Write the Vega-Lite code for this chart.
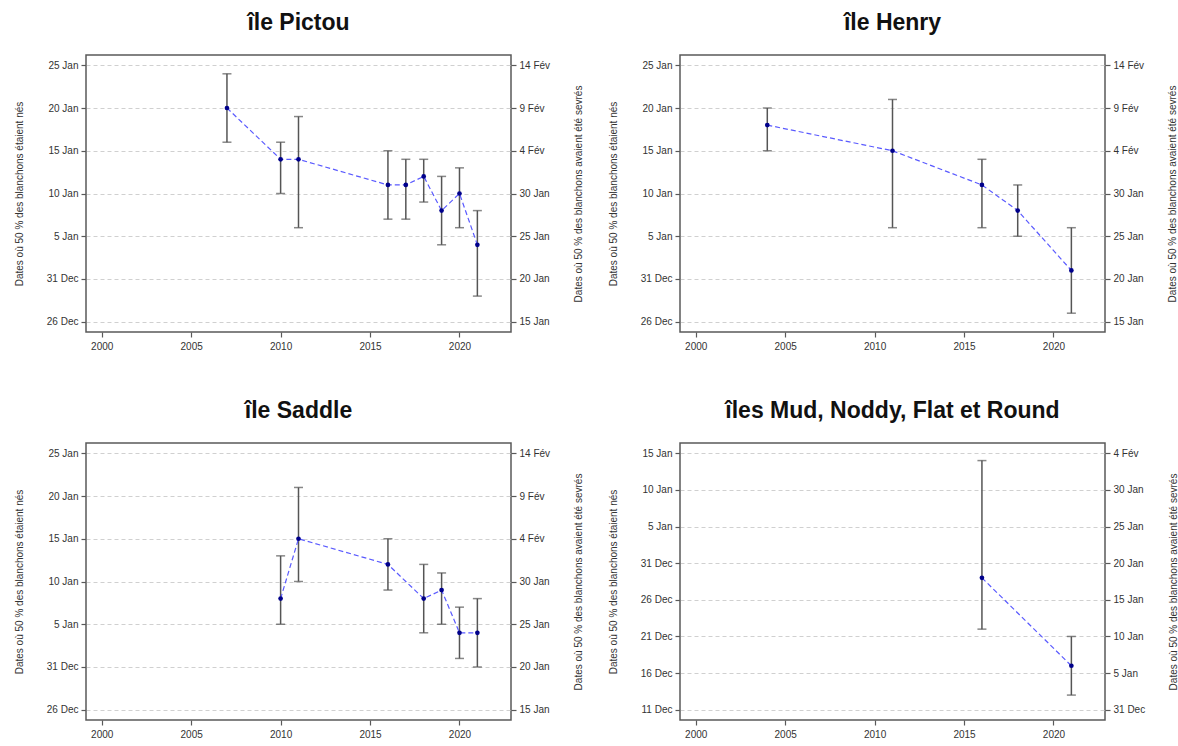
{
  "$schema": "https://vega.github.io/schema/vega-lite/v6.json",
  "padding": {"left": 13, "top": 11, "right": 0, "bottom": 0},
  "background": "white",
  "datasets": {
    "pts": [
      {"panel": "Pictou", "year": 2007, "mid": 20, "lo": 16, "hi": 24},
      {"panel": "Pictou", "year": 2010, "mid": 14, "lo": 10, "hi": 16},
      {"panel": "Pictou", "year": 2011, "mid": 14, "lo": 6, "hi": 19},
      {"panel": "Pictou", "year": 2016, "mid": 11, "lo": 7, "hi": 15},
      {"panel": "Pictou", "year": 2017, "mid": 11, "lo": 7, "hi": 14},
      {"panel": "Pictou", "year": 2018, "mid": 12, "lo": 9, "hi": 14},
      {"panel": "Pictou", "year": 2019, "mid": 8, "lo": 4, "hi": 12},
      {"panel": "Pictou", "year": 2020, "mid": 10, "lo": 6, "hi": 13},
      {"panel": "Pictou", "year": 2021, "mid": 4, "lo": -2, "hi": 8},
      {"panel": "Henry", "year": 2004, "mid": 18, "lo": 15, "hi": 20},
      {"panel": "Henry", "year": 2011, "mid": 15, "lo": 6, "hi": 21},
      {"panel": "Henry", "year": 2016, "mid": 11, "lo": 6, "hi": 14},
      {"panel": "Henry", "year": 2018, "mid": 8, "lo": 5, "hi": 11},
      {"panel": "Henry", "year": 2021, "mid": 1, "lo": -4, "hi": 6},
      {"panel": "Saddle", "year": 2010, "mid": 8, "lo": 5, "hi": 13},
      {"panel": "Saddle", "year": 2011, "mid": 15, "lo": 10, "hi": 21},
      {"panel": "Saddle", "year": 2016, "mid": 12, "lo": 9, "hi": 15},
      {"panel": "Saddle", "year": 2018, "mid": 8, "lo": 4, "hi": 12},
      {"panel": "Saddle", "year": 2019, "mid": 9, "lo": 5, "hi": 11},
      {"panel": "Saddle", "year": 2020, "mid": 4, "lo": 1, "hi": 7},
      {"panel": "Saddle", "year": 2021, "mid": 4, "lo": 0, "hi": 8},
      {"panel": "Mud", "year": 2016, "mid": -2, "lo": -9, "hi": 14},
      {"panel": "Mud", "year": 2021, "mid": -14, "lo": -18, "hi": -10}
    ]
  },
  "data": {"name": "pts"},
  "columns": 2,
  "spacing": {"row": 47, "column": 22},
  "concat": [
    {
      "title": "île Pictou",
      "width": 425, "height": 277,
      "transform": [{"filter": "datum.panel === 'Pictou'"}],
      "encoding": {"x": {"field": "year", "type": "quantitative", "scale": {"domain": [1999.12, 2022.88], "nice": false, "zero": false}, "axis": {"values": [2000, 2005, 2010, 2015, 2020], "format": "d", "title": null, "labelPadding": 4}}},
      "layer": [
        {
          "layer": [
            {"mark": {"type": "rule", "color": "#555555", "strokeWidth": 1.5}, "encoding": {"y": {"field": "lo", "type": "quantitative", "scale": {"domain": [-6.2, 26.2], "nice": false, "zero": false}, "axis": {"orient": "left", "values": [-5, 0, 5, 10, 15, 20, 25], "grid": true, "labelExpr": "datum.value <= 0 ? (datum.value + 31) + ' Dec' : datum.value + ' Jan'", "title": "Dates où 50 % des blanchons étaient nés", "titlePadding": 22}}, "y2": {"field": "hi"}}},
            {"mark": {"type": "tick", "orient": "horizontal", "color": "#555555", "thickness": 1.5, "size": 9}, "encoding": {"y": {"field": "lo", "type": "quantitative"}}},
            {"mark": {"type": "tick", "orient": "horizontal", "color": "#555555", "thickness": 1.5, "size": 9}, "encoding": {"y": {"field": "hi", "type": "quantitative"}}},
            {"mark": {"type": "line", "color": "#5a5aff", "strokeDash": [5, 3], "strokeWidth": 1.2}, "encoding": {"y": {"field": "mid", "type": "quantitative"}}},
            {"mark": {"type": "circle", "color": "#00008b", "opacity": 1, "size": 22}, "encoding": {"y": {"field": "mid", "type": "quantitative"}}}
          ]
        },
        {
          "mark": {"type": "point", "opacity": 0},
          "encoding": {"y": {"field": "mid", "type": "quantitative", "scale": {"domain": [-6.2, 26.2], "nice": false, "zero": false}, "axis": {"orient": "right", "values": [-5, 0, 5, 10, 15, 20, 25], "grid": false, "labelExpr": "(datum.value + 20) <= 0 ? (datum.value + 51) + ' Dec' : (datum.value + 20) <= 31 ? (datum.value + 20) + ' Jan' : (datum.value - 11) + ' Fév'", "title": "Dates où 50 % des blanchons avaient été sevrés", "titlePadding": 34, "titleAngle": 270}}}
        }
      ],
      "resolve": {"scale": {"y": "independent"}, "axis": {"y": "independent"}}
    },
    {
      "title": "île Henry",
      "width": 425, "height": 277,
      "transform": [{"filter": "datum.panel === 'Henry'"}],
      "encoding": {"x": {"field": "year", "type": "quantitative", "scale": {"domain": [1999.12, 2022.88], "nice": false, "zero": false}, "axis": {"values": [2000, 2005, 2010, 2015, 2020], "format": "d", "title": null, "labelPadding": 4}}},
      "layer": [
        {
          "layer": [
            {"mark": {"type": "rule", "color": "#555555", "strokeWidth": 1.5}, "encoding": {"y": {"field": "lo", "type": "quantitative", "scale": {"domain": [-6.2, 26.2], "nice": false, "zero": false}, "axis": {"orient": "left", "values": [-5, 0, 5, 10, 15, 20, 25], "grid": true, "labelExpr": "datum.value <= 0 ? (datum.value + 31) + ' Dec' : datum.value + ' Jan'", "title": "Dates où 50 % des blanchons étaient nés", "titlePadding": 22}}, "y2": {"field": "hi"}}},
            {"mark": {"type": "tick", "orient": "horizontal", "color": "#555555", "thickness": 1.5, "size": 9}, "encoding": {"y": {"field": "lo", "type": "quantitative"}}},
            {"mark": {"type": "tick", "orient": "horizontal", "color": "#555555", "thickness": 1.5, "size": 9}, "encoding": {"y": {"field": "hi", "type": "quantitative"}}},
            {"mark": {"type": "line", "color": "#5a5aff", "strokeDash": [5, 3], "strokeWidth": 1.2}, "encoding": {"y": {"field": "mid", "type": "quantitative"}}},
            {"mark": {"type": "circle", "color": "#00008b", "opacity": 1, "size": 22}, "encoding": {"y": {"field": "mid", "type": "quantitative"}}}
          ]
        },
        {
          "mark": {"type": "point", "opacity": 0},
          "encoding": {"y": {"field": "mid", "type": "quantitative", "scale": {"domain": [-6.2, 26.2], "nice": false, "zero": false}, "axis": {"orient": "right", "values": [-5, 0, 5, 10, 15, 20, 25], "grid": false, "labelExpr": "(datum.value + 20) <= 0 ? (datum.value + 51) + ' Dec' : (datum.value + 20) <= 31 ? (datum.value + 20) + ' Jan' : (datum.value - 11) + ' Fév'", "title": "Dates où 50 % des blanchons avaient été sevrés", "titlePadding": 34, "titleAngle": 270}}}
        }
      ],
      "resolve": {"scale": {"y": "independent"}, "axis": {"y": "independent"}}
    },
    {
      "title": "île Saddle",
      "width": 425, "height": 277,
      "transform": [{"filter": "datum.panel === 'Saddle'"}],
      "encoding": {"x": {"field": "year", "type": "quantitative", "scale": {"domain": [1999.12, 2022.88], "nice": false, "zero": false}, "axis": {"values": [2000, 2005, 2010, 2015, 2020], "format": "d", "title": null, "labelPadding": 4}}},
      "layer": [
        {
          "layer": [
            {"mark": {"type": "rule", "color": "#555555", "strokeWidth": 1.5}, "encoding": {"y": {"field": "lo", "type": "quantitative", "scale": {"domain": [-6.2, 26.2], "nice": false, "zero": false}, "axis": {"orient": "left", "values": [-5, 0, 5, 10, 15, 20, 25], "grid": true, "labelExpr": "datum.value <= 0 ? (datum.value + 31) + ' Dec' : datum.value + ' Jan'", "title": "Dates où 50 % des blanchons étaient nés", "titlePadding": 22}}, "y2": {"field": "hi"}}},
            {"mark": {"type": "tick", "orient": "horizontal", "color": "#555555", "thickness": 1.5, "size": 9}, "encoding": {"y": {"field": "lo", "type": "quantitative"}}},
            {"mark": {"type": "tick", "orient": "horizontal", "color": "#555555", "thickness": 1.5, "size": 9}, "encoding": {"y": {"field": "hi", "type": "quantitative"}}},
            {"mark": {"type": "line", "color": "#5a5aff", "strokeDash": [5, 3], "strokeWidth": 1.2}, "encoding": {"y": {"field": "mid", "type": "quantitative"}}},
            {"mark": {"type": "circle", "color": "#00008b", "opacity": 1, "size": 22}, "encoding": {"y": {"field": "mid", "type": "quantitative"}}}
          ]
        },
        {
          "mark": {"type": "point", "opacity": 0},
          "encoding": {"y": {"field": "mid", "type": "quantitative", "scale": {"domain": [-6.2, 26.2], "nice": false, "zero": false}, "axis": {"orient": "right", "values": [-5, 0, 5, 10, 15, 20, 25], "grid": false, "labelExpr": "(datum.value + 20) <= 0 ? (datum.value + 51) + ' Dec' : (datum.value + 20) <= 31 ? (datum.value + 20) + ' Jan' : (datum.value - 11) + ' Fév'", "title": "Dates où 50 % des blanchons avaient été sevrés", "titlePadding": 34, "titleAngle": 270}}}
        }
      ],
      "resolve": {"scale": {"y": "independent"}, "axis": {"y": "independent"}}
    },
    {
      "title": "îles Mud, Noddy, Flat et Round",
      "width": 425, "height": 277,
      "transform": [{"filter": "datum.panel === 'Mud'"}],
      "encoding": {"x": {"field": "year", "type": "quantitative", "scale": {"domain": [1999.12, 2022.88], "nice": false, "zero": false}, "axis": {"values": [2000, 2005, 2010, 2015, 2020], "format": "d", "title": null, "labelPadding": 4}}},
      "layer": [
        {
          "layer": [
            {"mark": {"type": "rule", "color": "#555555", "strokeWidth": 1.5}, "encoding": {"y": {"field": "lo", "type": "quantitative", "scale": {"domain": [-21.4, 16.4], "nice": false, "zero": false}, "axis": {"orient": "left", "values": [-20, -15, -10, -5, 0, 5, 10, 15], "grid": true, "labelExpr": "datum.value <= 0 ? (datum.value + 31) + ' Dec' : datum.value + ' Jan'", "title": "Dates où 50 % des blanchons étaient nés", "titlePadding": 22}}, "y2": {"field": "hi"}}},
            {"mark": {"type": "tick", "orient": "horizontal", "color": "#555555", "thickness": 1.5, "size": 9}, "encoding": {"y": {"field": "lo", "type": "quantitative", "axis": {"orient": "left", "values": [-20, -15, -10, -5, 0, 5, 10, 15], "grid": true, "labelExpr": "datum.value <= 0 ? (datum.value + 31) + ' Dec' : datum.value + ' Jan'", "title": "Dates où 50 % des blanchons étaient nés", "titlePadding": 22}}}},
            {"mark": {"type": "tick", "orient": "horizontal", "color": "#555555", "thickness": 1.5, "size": 9}, "encoding": {"y": {"field": "hi", "type": "quantitative", "axis": {"orient": "left", "values": [-20, -15, -10, -5, 0, 5, 10, 15], "grid": true, "labelExpr": "datum.value <= 0 ? (datum.value + 31) + ' Dec' : datum.value + ' Jan'", "title": "Dates où 50 % des blanchons étaient nés", "titlePadding": 22}}}},
            {"mark": {"type": "line", "color": "#5a5aff", "strokeDash": [5, 3], "strokeWidth": 1.2}, "encoding": {"y": {"field": "mid", "type": "quantitative", "axis": {"orient": "left", "values": [-20, -15, -10, -5, 0, 5, 10, 15], "grid": true, "labelExpr": "datum.value <= 0 ? (datum.value + 31) + ' Dec' : datum.value + ' Jan'", "title": "Dates où 50 % des blanchons étaient nés", "titlePadding": 22}}}},
            {"mark": {"type": "circle", "color": "#00008b", "opacity": 1, "size": 22}, "encoding": {"y": {"field": "mid", "type": "quantitative", "axis": {"orient": "left", "values": [-20, -15, -10, -5, 0, 5, 10, 15], "grid": true, "labelExpr": "datum.value <= 0 ? (datum.value + 31) + ' Dec' : datum.value + ' Jan'", "title": "Dates où 50 % des blanchons étaient nés", "titlePadding": 22}}}}
          ]
        },
        {
          "mark": {"type": "point", "opacity": 0},
          "encoding": {"y": {"field": "mid", "type": "quantitative", "scale": {"domain": [-21.4, 16.4], "nice": false, "zero": false}, "axis": {"orient": "right", "values": [-20, -15, -10, -5, 0, 5, 10, 15], "grid": false, "labelExpr": "(datum.value + 20) <= 0 ? (datum.value + 51) + ' Dec' : (datum.value + 20) <= 31 ? (datum.value + 20) + ' Jan' : (datum.value - 11) + ' Fév'", "title": "Dates où 50 % des blanchons avaient été sevrés", "titlePadding": 34, "titleAngle": 270}}}
        }
      ],
      "resolve": {"scale": {"y": "independent"}, "axis": {"y": "independent"}}
    }
  ],
  "config": {
    "view": {"stroke": "#595959", "strokeWidth": 1.5},
    "axis": {"domain": false, "grid": false, "labelOverlap": false, "tickColor": "#595959", "tickSize": 5, "tickWidth": 1.2, "labelFont": "Liberation Sans", "labelFontSize": 10, "labelColor": "#333333", "labelPadding": 3, "titleFont": "Liberation Sans", "titleFontSize": 10, "titleFontWeight": "normal", "titleColor": "#333333", "gridColor": "#d0d0d0", "gridDash": [4, 3], "gridWidth": 1},
    "title": {"font": "Liberation Sans", "fontSize": 23, "fontWeight": "bold", "color": "#111111", "offset": 20}
  }
}
